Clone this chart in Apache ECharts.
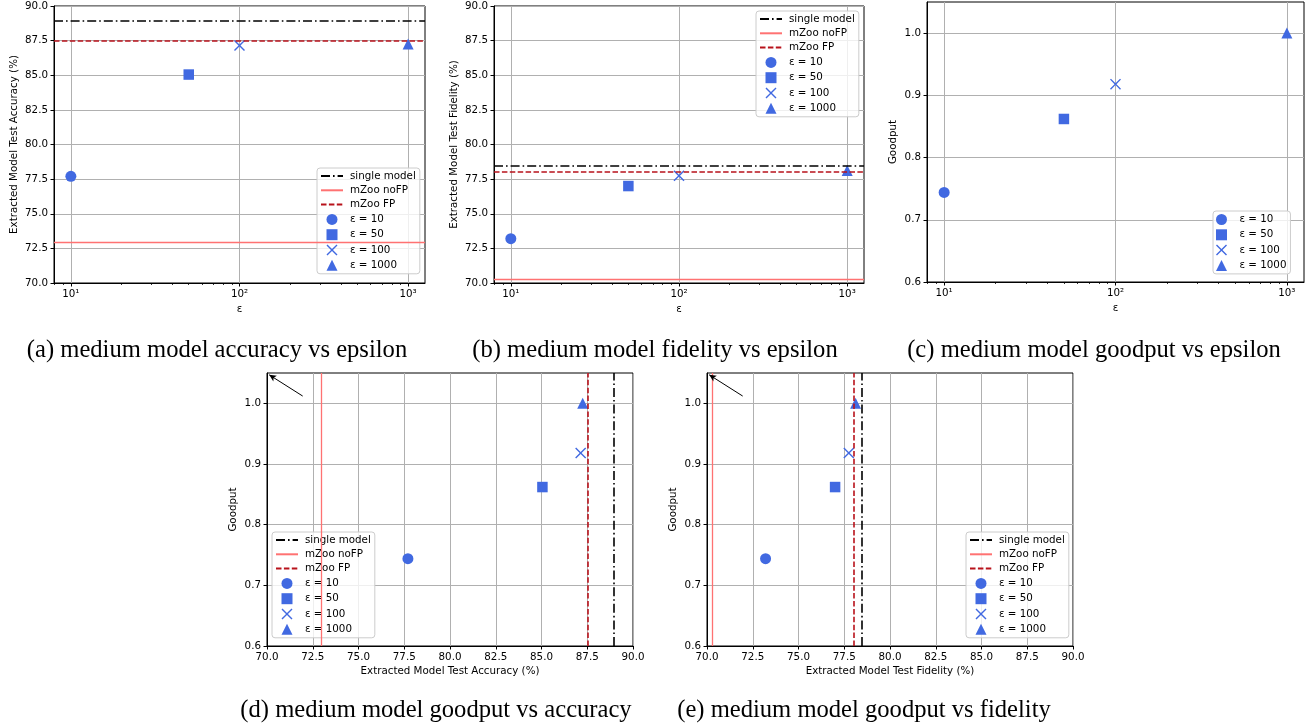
<!DOCTYPE html>
<html><head><meta charset="utf-8">
<script src="https://cdn.jsdelivr.net/npm/echarts@6/dist/echarts.min.js"></script>
<style>html,body{margin:0;padding:0;background:#fff}#c{width:1313px;height:727px}</style>
</head><body><div id="c"></div><script>
// ---------- data ----------
const epsilons = [10, 50, 100, 1000];
const epsNames = ['ε = 10', 'ε = 50', 'ε = 100', 'ε = 1000'];
const accuracy = [77.7, 85.05, 87.14, 87.25];
const fidelity = [73.2, 77.0, 77.75, 78.12];
const goodput = [0.744, 0.862, 0.918, 1.0];
const refNames = ['single model', 'mZoo noFP', 'mZoo FP'];
const refAccuracy = [88.97, 72.95, 87.5];
const refFidelity = [78.48, 70.3, 78.0];
const logTicks = [1, 2, 3];
const logTickLabels = ['10¹', '10²', '10³'];
const goodputTicks = [0.6, 0.7, 0.8, 0.9, 1.0];
const arrowFrom = [71.95, 1.012];
const arrowTo = [70.12, 1.047];
const captions = [
  '(a) medium model accuracy vs epsilon',
  '(b) medium model fidelity vs epsilon',
  '(c) medium model goodput vs epsilon',
  '(d) medium model goodput vs accuracy',
  '(e) medium model goodput vs fidelity'
];

// ---------- style ----------
const FONT = 'DejaVu Sans';
const FS = 10.3;
const BLUE = '#4169e1';
const X_PATH = 'path://M0,9 L9,0 L50,41 L91,0 L100,9 L59,50 L100,91 L91,100 L50,59 L9,100 L0,91 L41,50 Z';
const SQ_PATH = 'path://M0,0 L10,0 L10,10 L0,10 Z';
const TRI_PATH = 'path://M5,0 L10,10 L0,10 Z';
const epsSymbols = ['circle', SQ_PATH, X_PATH, TRI_PATH];
const epsSizes = [11, 10.5, 11, 11];
const refStyles = [
  { color: '#000000', width: 1.6, type: [9, 3, 1.6, 3] },
  { color: '#ff7272', width: 1.3, type: 'solid' },
  { color: '#b8121b', width: 1.6, type: [5.5, 2.4] }
];
const grids = [
  { left: 54, top: 6, width: 371, height: 277 },
  { left: 494, top: 6, width: 370, height: 277 },
  { left: 927, top: 2, width: 377, height: 280 },
  { left: 267, top: 373, width: 366, height: 273 },
  { left: 707, top: 373, width: 366, height: 273 }
];
const legendPos = [
  { left: 317, top: 168 },
  { left: 756, top: 11 },
  { left: 1213, top: 211 },
  { left: 272, top: 532 },
  { left: 966, top: 532 }
];
const captionPos = [[217, 351], [655, 351], [1094, 351], [436, 711], [864, 711]];

const minorLog = [];
for (let d = 0; d <= 3; d++) for (let m = 2; m <= 9; m++) {
  const v = Math.log10(m * Math.pow(10, d));
  if (v > 0.9 && v < 3.1) minorLog.push(v);
}

const txt = { color: '#000', fontFamily: FONT, fontSize: FS };
function axisCommon() {
  return {
    axisLine: { show: true, onZero: false, lineStyle: { color: '#000', width: 1 } },
    axisTick: { show: true, inside: false, length: 3.5, lineStyle: { color: '#000', width: 1 } },
    axisLabel: Object.assign({ margin: 6 }, txt),
    splitLine: { show: true, lineStyle: { color: '#b0b0b0', width: 1 } },
    nameTextStyle: txt,
    nameLocation: 'middle'
  };
}

const xAxes = [], yAxes = [], series = [], legends = [];
const xMain = [];

// log-epsilon x axes for a,b,c
for (let g = 0; g < 3; g++) {
  const a = axisCommon();
  a.gridIndex = g; a.type = 'value'; a.min = 0.9; a.max = 3.1;
  a.name = 'ε'; a.nameGap = 21;
  a.axisTick.customValues = logTicks;
  a.axisLabel.customValues = logTicks;
  a.axisLabel.formatter = v => logTickLabels[logTicks.indexOf(Math.round(v))] || '';
  xMain[g] = xAxes.length; xAxes.push(a);
  // minor ticks
  xAxes.push({
    gridIndex: g, type: 'value', min: 0.9, max: 3.1, position: 'top', offset: -grids[g].height,
    axisLine: { show: false }, axisLabel: { show: false }, splitLine: { show: false },
    axisTick: { show: true, inside: true, length: 2, customValues: minorLog, lineStyle: { color: '#000', width: 0.8 } }
  });
}
// linear x axes for d,e
['Extracted Model Test Accuracy (%)', 'Extracted Model Test Fidelity (%)'].forEach((nm, k) => {
  const a = axisCommon();
  a.gridIndex = 3 + k; a.type = 'value'; a.min = 70; a.max = 90; a.interval = 2.5;
  a.name = nm; a.nameGap = 20;
  a.axisLabel.formatter = v => v.toFixed(1);
  xMain[3 + k] = xAxes.length; xAxes.push(a);
});
// y axes
const yNames = ['Extracted Model Test Accuracy (%)', 'Extracted Model Test Fidelity (%)', 'Goodput', 'Goodput', 'Goodput'];
const yGaps = [35, 35, 29, 29, 29];
for (let g = 0; g < 5; g++) {
  const a = axisCommon();
  a.gridIndex = g; a.type = 'value'; a.name = yNames[g]; a.nameGap = yGaps[g];
  if (g < 2) { a.min = 70; a.max = 90; a.interval = 2.5; }
  else {
    a.min = 0.6; a.max = 1.05; a.interval = 0.1;
    a.axisTick.customValues = goodputTicks; a.axisLabel.customValues = goodputTicks;
  }
  a.axisLabel.formatter = v => v.toFixed(1);
  yAxes.push(a);
}

// series per subplot
const subplotData = [
  { xs: epsilons.map(e => Math.log10(e)), ys: accuracy, ref: refAccuracy, dir: 'h' },
  { xs: epsilons.map(e => Math.log10(e)), ys: fidelity, ref: refFidelity, dir: 'h' },
  { xs: epsilons.map(e => Math.log10(e)), ys: goodput, ref: null },
  { xs: accuracy, ys: goodput, ref: refAccuracy, dir: 'v', arrow: true },
  { xs: fidelity, ys: goodput, ref: refFidelity, dir: 'v', arrow: true }
];
subplotData.forEach((sp, g) => {
  const names = [];
  if (sp.ref) {
    refNames.forEach((nm, k) => {
      names.push({ name: nm, itemStyle: { opacity: 0 } });
      const st = refStyles[k];
      series.push({
        type: 'line', name: nm, xAxisIndex: xMain[g], yAxisIndex: g, data: [],
        symbol: 'none', showSymbol: false, color: st.color,
        lineStyle: { color: st.color, width: st.width, type: st.type },
        markLine: {
          silent: true, symbol: ['none', 'none'], label: { show: false }, animation: false,
          lineStyle: { color: st.color, width: st.width, type: st.type },
          emphasis: { disabled: true },
          data: [sp.dir === 'h' ? { yAxis: sp.ref[k] } : { xAxis: sp.ref[k] }]
        },
        z: 3
      });
    });
  }
  epsNames.forEach((nm, j) => {
    names.push({ name: nm });
    series.push({
      type: 'scatter', name: nm, xAxisIndex: xMain[g], yAxisIndex: g,
      symbol: epsSymbols[j], symbolSize: epsSizes[j], symbolKeepAspect: true, color: BLUE,
      itemStyle: { color: BLUE, opacity: 1 },
      data: [[sp.xs[j], sp.ys[j]]], z: 2, animation: false
    });
  });
  if (sp.arrow) {
    series.push({
      type: 'line', name: 'arrow', xAxisIndex: xMain[g], yAxisIndex: g, data: [],
      markLine: {
        silent: true, symbol: ['none', 'arrow'], symbolSize: [5, 7], label: { show: false }, animation: false,
        lineStyle: { color: '#000', width: 1, type: 'solid' },
        data: [[{ coord: arrowFrom }, { coord: arrowTo }]]
      }
    });
  }
  legends.push({
    show: true, orient: 'vertical', left: legendPos[g].left, top: legendPos[g].top,
    data: names, selectedMode: false, symbolKeepAspect: true,
    itemWidth: 22, itemHeight: 11, itemGap: 4.3,
    padding: [3, 4, 3, 3],
    backgroundColor: 'rgba(255,255,255,0.8)', borderColor: '#cccccc', borderWidth: 1, borderRadius: 3,
    textStyle: { color: '#000', fontFamily: FONT, fontSize: FS, padding: [0, 0, 0, 2] }
  });
});

const graphic = captions.map((t, i) => ({
  type: 'text', x: captionPos[i][0], y: captionPos[i][1], silent: true,
  style: { text: t, fill: '#000', font: '24.6px "Liberation Serif"', align: 'center', verticalAlign: 'middle',
           textAlign: 'center', textVerticalAlign: 'middle' }
}));

const chart = echarts.init(document.getElementById('c'), null, { renderer: 'canvas' });
chart.setOption({
  animation: false,
  backgroundColor: '#fff',
  grid: grids.map(g => Object.assign({ show: true, borderColor: '#000', borderWidth: 1, backgroundColor: 'transparent', containLabel: false }, g)),
  xAxis: xAxes, yAxis: yAxes, series: series, legend: legends, graphic: graphic
});
</script></body></html>
